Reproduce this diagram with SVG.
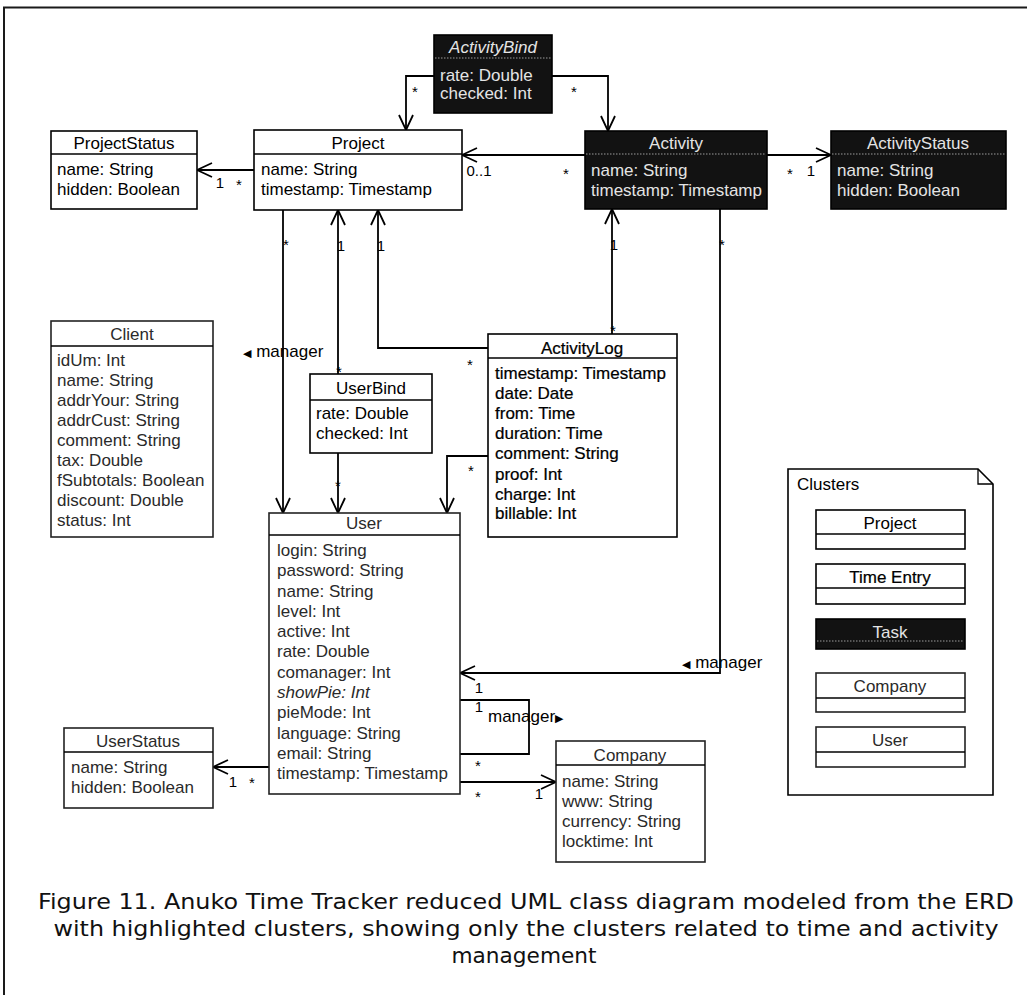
<svg xmlns="http://www.w3.org/2000/svg" width="1027" height="995" viewBox="0 0 1027 995">
<defs>
<style>
text{font-family:"Liberation Sans",Arial,"DejaVu Sans",sans-serif;font-size:17px;fill:#000}
.t{text-anchor:middle}
.box{fill:#fff;stroke:#000;stroke-width:1.6}
.gbox{fill:#fff;stroke:#222;stroke-width:1.6}
.dark{fill:#121212;stroke:#000;stroke-width:1.6}
.sep{stroke:#000;stroke-width:1.3}
.sepd{stroke:#9a9a9a;stroke-width:1;stroke-dasharray:1.5 1.5}
.w{fill:#e4e4e4}
.g{fill:#2a2a2a}
.b{stroke:#000;stroke-width:0.22}
.m{font-size:15px;text-anchor:middle}
.c{fill:none;stroke:#000;stroke-width:1.8}
.ca{fill:none;stroke:#000;stroke-width:1.8;marker-end:url(#arr)}
.cap{font-family:"DejaVu Sans",Verdana,sans-serif;font-size:22px;text-anchor:middle;fill:#111}
</style>
<marker id="arr" viewBox="-17 -9 19 18" refX="0" refY="0" markerWidth="19" markerHeight="18" markerUnits="userSpaceOnUse" orient="auto">
<path d="M-15,-7 L0,0 L-15,7" fill="none" stroke="#000" stroke-width="1.8"/>
</marker>
</defs>
<rect width="1027" height="995" fill="#fff"/>
<g id="frame"><path d="M3,7.5 H1027 M4,7 V995" fill="none" stroke="#1a1a1a" stroke-width="2"/></g>

<g id="connectors">
<path class="ca" d="M434,76 H406 V130"/>
<path class="ca" d="M552,76 H608 V131"/>
<path class="ca" d="M254,170 H197"/>
<path class="ca" d="M585,155 H462"/>
<path class="ca" d="M767,155 H831"/>
<path class="ca" d="M283,210 V513"/>
<path class="ca" d="M338,374 V210"/>
<path class="ca" d="M338,453 V513"/>
<path class="ca" d="M488,348 H378 V210"/>
<path class="ca" d="M488,456 H447 V513"/>
<path class="ca" d="M612,334 V209"/>
<path class="ca" d="M720,209 V673 H460"/>
<path class="c" d="M460,700 H529 V754 H460"/>
<path class="ca" d="M460,782 H556"/>
<path class="ca" d="M269,767 H213"/>
<text class="m" x="415" y="97">*</text>
<text class="m" x="574" y="97">*</text>
<text class="m" x="220" y="188">1</text>
<text class="m" x="239" y="190">*</text>
<text class="m" x="479" y="176">0..1</text>
<text class="m" x="566" y="179">*</text>
<text class="m" x="790" y="179">*</text>
<text class="m" x="811" y="176">1</text>
<text class="m" x="286" y="250">*</text>
<text class="m" x="341" y="251">1</text>
<text class="m" x="339" y="377">*</text>
<text class="m" x="381" y="251">1</text>
<text class="m" x="470" y="370">*</text>
<text class="m" x="338" y="491">*</text>
<text class="m" x="471" y="476">*</text>
<text class="m" x="614" y="250">1</text>
<text class="m" x="613" y="336">*</text>
<text class="m" x="722" y="250">*</text>
<text class="m" x="479" y="693">1</text>
<text class="m" x="479" y="712">1</text>
<text class="m" x="478" y="771">*</text>
<text class="m" x="478" y="802">*</text>
<text class="m" x="539" y="799">1</text>
<text class="m" x="233" y="787">1</text>
<text class="m" x="252" y="788">*</text>
<text x="243" y="357"><tspan font-size="11">◀</tspan> manager</text>
<text x="682" y="668"><tspan font-size="11">◀</tspan> manager</text>
<text x="488" y="722">manager<tspan font-size="11">▶</tspan></text>
</g>

<g id="ActivityBind">
<rect class="dark" x="434" y="35" width="118" height="78"/>
<line class="sepd" x1="435" y1="58" x2="551" y2="58"/>
<text class="t w" x="493" y="53" font-style="italic">ActivityBind</text>
<text class="w" x="440" y="81">rate: Double</text>
<text class="w" x="440" y="99">checked: Int</text>
</g>

<g id="ProjectStatus">
<rect class="box" x="51" y="131" width="146" height="78"/>
<line class="sep" x1="51" y1="154" x2="197" y2="154"/>
<text class="t" x="124" y="149">ProjectStatus</text>
<text x="57" y="175">name: String</text>
<text x="57" y="195">hidden: Boolean</text>
</g>

<g id="Project">
<rect class="box" x="254" y="130" width="208" height="80"/>
<line class="sep" x1="254" y1="154" x2="462" y2="154"/>
<text class="t" x="358" y="149">Project</text>
<text x="261" y="175">name: String</text>
<text x="261" y="195">timestamp: Timestamp</text>
</g>

<g id="Activity">
<rect class="dark" x="585" y="131" width="182" height="78"/>
<line class="sepd" x1="586" y1="154" x2="766" y2="154"/>
<text class="t w" x="676" y="149">Activity</text>
<text class="w" x="591" y="176">name: String</text>
<text class="w" x="591" y="196">timestamp: Timestamp</text>
</g>

<g id="ActivityStatus">
<rect class="dark" x="831" y="131" width="175" height="78"/>
<line class="sepd" x1="832" y1="154" x2="1005" y2="154"/>
<text class="t w" x="918" y="149">ActivityStatus</text>
<text class="w" x="837" y="176">name: String</text>
<text class="w" x="837" y="196">hidden: Boolean</text>
</g>

<g id="Client">
<rect class="gbox" x="51" y="321" width="162" height="216"/>
<line class="sep" x1="51" y1="346" x2="213" y2="346"/>
<text class="t g" x="132" y="340">Client</text>
<text class="g" x="57" y="366">idUm: Int</text>
<text class="g" x="57" y="386">name: String</text>
<text class="g" x="57" y="406">addrYour: String</text>
<text class="g" x="57" y="426">addrCust: String</text>
<text class="g" x="57" y="446">comment: String</text>
<text class="g" x="57" y="466">tax: Double</text>
<text class="g" x="57" y="486">fSubtotals: Boolean</text>
<text class="g" x="57" y="506">discount: Double</text>
<text class="g" x="57" y="526">status: Int</text>
</g>

<g id="UserBind">
<rect class="box" x="310" y="374" width="122" height="79"/>
<line class="sep" x1="310" y1="400" x2="432" y2="400"/>
<text class="t" x="371" y="394">UserBind</text>
<text x="316" y="419">rate: Double</text>
<text x="316" y="439">checked: Int</text>
</g>

<g id="ActivityLog">
<rect class="box" x="488" y="334" width="189" height="203"/>
<line class="sep" x1="488" y1="358" x2="677" y2="358"/>
<text class="t b" x="582" y="354">ActivityLog</text>
<text class="b" x="495" y="379">timestamp: Timestamp</text>
<text class="b" x="495" y="399">date: Date</text>
<text class="b" x="495" y="419">from: Time</text>
<text class="b" x="495" y="439">duration: Time</text>
<text class="b" x="495" y="459">comment: String</text>
<text class="b" x="495" y="480">proof: Int</text>
<text class="b" x="495" y="500">charge: Int</text>
<text class="b" x="495" y="519">billable: Int</text>
</g>

<g id="User">
<rect class="gbox" x="269" y="513" width="191" height="281"/>
<line class="sep" x1="269" y1="535" x2="460" y2="535"/>
<text class="t g" x="364" y="529">User</text>
<text class="g" x="277" y="556">login: String</text>
<text class="g" x="277" y="576">password: String</text>
<text class="g" x="277" y="597">name: String</text>
<text class="g" x="277" y="617">level: Int</text>
<text class="g" x="277" y="637">active: Int</text>
<text class="g" x="277" y="657">rate: Double</text>
<text class="g" x="277" y="678">comanager: Int</text>
<text class="g" x="277" y="698" font-style="italic">showPie: Int</text>
<text class="g" x="277" y="718">pieMode: Int</text>
<text class="g" x="277" y="739">language: String</text>
<text class="g" x="277" y="759">email: String</text>
<text class="g" x="277" y="779">timestamp: Timestamp</text>
</g>

<g id="UserStatus">
<rect class="gbox" x="64" y="728" width="149" height="80"/>
<line class="sep" x1="64" y1="752" x2="213" y2="752"/>
<text class="t g" x="138" y="747">UserStatus</text>
<text class="g" x="71" y="773">name: String</text>
<text class="g" x="71" y="793">hidden: Boolean</text>
</g>

<g id="Company">
<rect class="gbox" x="556" y="741" width="149" height="121"/>
<line class="sep" x1="556" y1="765" x2="705" y2="765"/>
<text class="t g" x="630" y="761">Company</text>
<text class="g" x="562" y="787">name: String</text>
<text class="g" x="562" y="807">www: String</text>
<text class="g" x="562" y="827">currency: String</text>
<text class="g" x="562" y="847">locktime: Int</text>
</g>

<g id="Clusters">
<path d="M788,469 H978 L993,484 V795 H788 Z" fill="#fff" stroke="#000" stroke-width="1.6"/>
<path d="M978,469 V484 H993" fill="none" stroke="#000" stroke-width="1.3"/>
<text x="797" y="490">Clusters</text>
<rect class="box" x="816" y="510" width="149" height="39"/>
<line class="sep" x1="816" y1="534" x2="965" y2="534"/>
<text class="t" x="890" y="529">Project</text>
<rect class="box" x="816" y="564" width="149" height="40"/>
<line class="sep" x1="816" y1="588" x2="965" y2="588"/>
<text class="t b" x="890" y="583">Time Entry</text>
<rect class="dark" x="816" y="619" width="149" height="30"/>
<line class="sepd" x1="817" y1="641" x2="964" y2="641"/>
<text class="t w" x="890" y="638">Task</text>
<rect class="gbox" x="816" y="673" width="149" height="39"/>
<line class="sep" x1="816" y1="698" x2="965" y2="698"/>
<text class="t g" x="890" y="692">Company</text>
<rect class="gbox" x="816" y="727" width="149" height="40"/>
<line class="sep" x1="816" y1="752" x2="965" y2="752"/>
<text class="t g" x="890" y="746">User</text>
</g>

<g id="caption">
<text class="cap" x="526" y="909" textLength="976" lengthAdjust="spacingAndGlyphs">Figure 11. Anuko Time Tracker reduced UML class diagram modeled from the ERD</text>
<text class="cap" x="526" y="936" textLength="945" lengthAdjust="spacingAndGlyphs">with highlighted clusters, showing only the clusters related to time and activity</text>
<text class="cap" x="524" y="963" textLength="145" lengthAdjust="spacingAndGlyphs">management</text>
</g>
</svg>
